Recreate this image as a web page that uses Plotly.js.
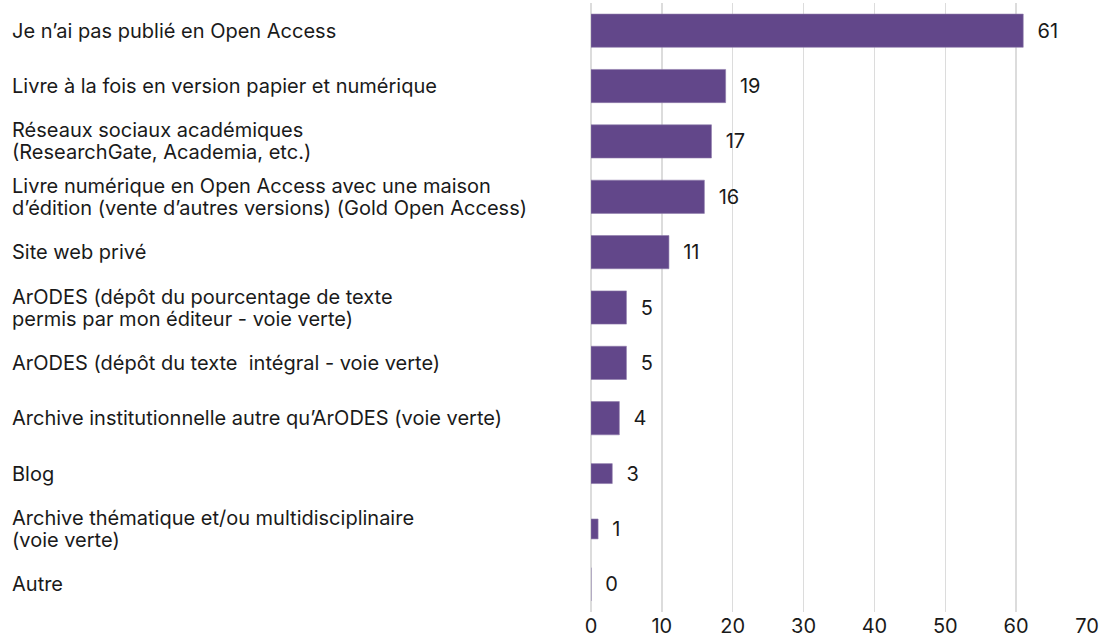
<!DOCTYPE html>
<html>
<head>
<meta charset="utf-8">
<script src="https://cdn.plot.ly/plotly-3.0.1.min.js"></script>
<style>
  html, body { margin: 0; padding: 0; background: #fff; }
  #chart { width: 1105px; height: 639px; }
</style>
</head>
<body>
<div id="chart"></div>
<script>
// categories, top to bottom as they appear in the chart
var categories = [
  'Je n’ai pas publié en Open Access',
  'Livre à la fois en version papier et numérique',
  'Réseaux sociaux académiques<br>(ResearchGate, Academia, etc.)',
  'Livre numérique en Open Access avec une maison<br>d’édition (vente d’autres versions) (Gold Open Access)',
  'Site web privé',
  'ArODES (dépôt du pourcentage de texte<br>permis par mon éditeur - voie verte)',
  'ArODES (dépôt du texte  intégral - voie verte)',
  'Archive institutionnelle autre qu’ArODES (voie verte)',
  'Blog',
  'Archive thématique et/ou multidisciplinaire<br>(voie verte)',
  'Autre'
];
var counts = [61, 19, 17, 16, 11, 5, 5, 4, 3, 1, 0];
var xTicks = [0, 10, 20, 30, 40, 50, 60, 70];

var barColor = '#62478a';
var textColor = '#1a1a1a';
var fontFamily = 'Inter, "Liberation Sans", Arial, sans-serif';
var fontSize = 20;
var lineGap = 22; // px between lines of a wrapped label

// the last bars in the original are drawn thinner
var barWidths = [0.6, 0.6, 0.6, 0.6, 0.6, 0.6, 0.6, 0.6, 0.36, 0.36, 0.6];

var trace = {
  type: 'bar',
  orientation: 'h',
  x: counts,
  y: categories,
  width: barWidths,
  marker: {color: barColor, line: {color: '#8f7cab', width: 0.6}},
  text: counts.map(String),
  texttemplate: '\u00a0\u00a0%{text}',
  textposition: 'outside',
  constraintext: 'none',
  cliponaxis: false,
  textfont: {family: fontFamily, size: fontSize, color: textColor},
  hoverinfo: 'none'
};

var plotLeft = 591;
var plotRight = 1087;
var labelX = -(plotLeft - 10) / (plotRight - plotLeft);

// left-aligned category labels, one annotation per line to keep lines tight
var annotations = [];
categories.forEach(function (c) {
  var lines = c.split('<br>');
  lines.forEach(function (line, i) {
    annotations.push({
      text: line,
      xref: 'paper',
      x: labelX,
      xanchor: 'left',
      yref: 'y',
      y: c,
      yanchor: 'middle',
      yshift: ((lines.length - 1) / 2 - i) * lineGap,
      align: 'left',
      showarrow: false,
      font: {family: fontFamily, size: fontSize, color: textColor}
    });
  });
});

var layout = {
  width: 1105,
  height: 639,
  margin: {l: plotLeft, r: 1105 - plotRight, t: 3, b: 27, pad: 0},
  paper_bgcolor: '#ffffff',
  plot_bgcolor: '#ffffff',
  showlegend: false,
  font: {family: fontFamily, size: fontSize, color: textColor},
  xaxis: {
    range: [0, 70],
    tickvals: xTicks,
    ticktext: xTicks.map(String),
    showgrid: true,
    gridcolor: '#dcdcdc',
    gridwidth: 1.5,
    zeroline: true,
    zerolinecolor: '#dcdcdc',
    zerolinewidth: 1.5,
    showline: false,
    ticks: '',
    fixedrange: true,
    tickfont: {family: fontFamily, size: fontSize, color: textColor}
  },
  yaxis: {
    type: 'category',
    autorange: 'reversed',
    showticklabels: false,
    showgrid: false,
    zeroline: false,
    ticks: '',
    fixedrange: true
  },
  annotations: annotations
};

Plotly.newPlot('chart', [trace], layout, {displayModeBar: false, staticPlot: true});
</script>
</body>
</html>
